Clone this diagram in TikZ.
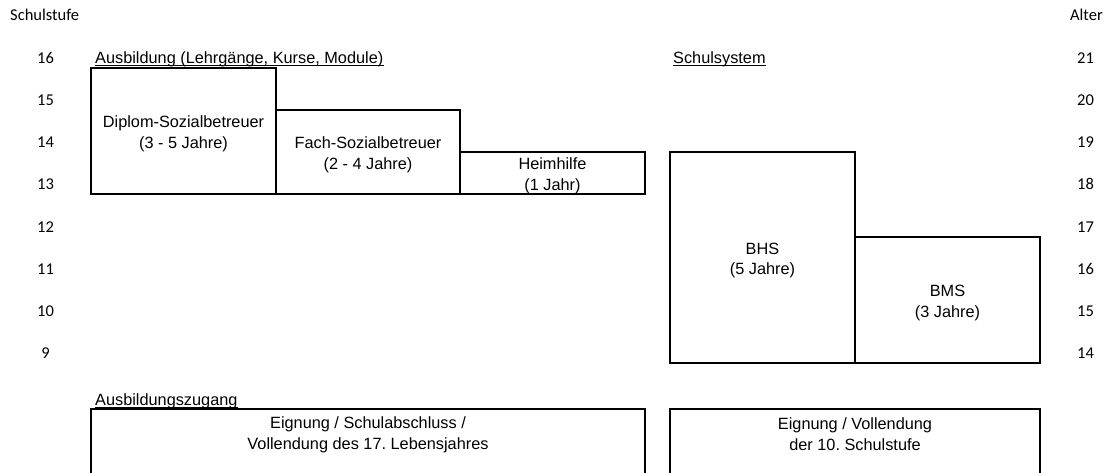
\documentclass[tikz,border=0pt]{standalone}
\usepackage{fontspec}
\setmainfont{Liberation Sans}
\newfontfamily\calibrifont{Carlito}
\newcommand\arialtext{\fontsize{16.3}{20.8}\selectfont}
\newcommand\calibritext{\calibrifont\fontsize{16.5}{20}\selectfont}
\begin{document}
\begin{tikzpicture}[x=1pt,y=-1pt,
  box/.style={draw, line width=1.1pt, inner sep=0pt},
  txt/.style={inner sep=0pt, align=center, font=\arialtext},
  num/.style={font=\calibritext, anchor=base, inner sep=0pt},
  head/.style={font=\arialtext, anchor=base west, inner sep=0pt},
  uline/.style={line width=0.9pt}]
\useasboundingbox (0,0) rectangle (1109,472);
\clip (0,0) rectangle (1109,472);

% axis titles
\node[font=\calibritext, anchor=base west, inner sep=0pt] (schulstufe) at (10,20.7) {Schulstufe};
\node[font=\calibritext, anchor=base east, inner sep=0pt] (alter) at (1103,20.7) {Alter};

% axis numbers
\foreach \s [count=\i from 0] in {16,15,14,13,12,11,10,9} {
  \node[num] (l\s) at (45.5,63.3+\i*42.2) {\s};
}
\foreach \a [count=\i from 0] in {21,20,19,18,17,16,15,14} {
  \node[num] (r\a) at (1085.5,63.3+\i*42.2) {\a};
}

% headings
\node[head] (hausb) at (95,63.3) {Ausbildung (Lehrgänge, Kurse, Module)};
\draw[uline] ([yshift=-2.5pt]hausb.base west) -- ([yshift=-2.5pt]hausb.base east);
\node[head] (hschul) at (673,63.3) {Schulsystem};
\draw[uline] ([yshift=-2.5pt]hschul.base west) -- ([yshift=-2.5pt]hschul.base east);
\node[head] (hzug) at (95,405.2) {Ausbildungszugang};
\draw[uline] ([yshift=-2.5pt]hzug.base west) -- ([yshift=-2.5pt]hzug.base east);

% training boxes
\node[box, minimum width=185pt, minimum height=126pt] (diplom) at (183.5,131) {};
\node[txt] (diplomtext) at (183.5,133.5) {Diplom-Sozialbetreuer\\(3 - 5 Jahre)};
\node[box, minimum width=184pt, minimum height=84pt] (fach) at (368,152) {};
\node[txt] (fachtext) at (368,155) {Fach-Sozialbetreuer\\(2 - 4 Jahre)};
\node[box, minimum width=185pt, minimum height=42pt] (heim) at (552.5,173) {};
\node[txt] (heimtext) at (552.5,176) {Heimhilfe\\(1 Jahr)};

% school boxes
\node[box, minimum width=185pt, minimum height=211pt] (bhs) at (762.5,257.5) {};
\node[txt] (bhstext) at (762.5,260.5) {BHS\\(5 Jahre)};
\node[box, minimum width=185pt, minimum height=126pt] (bms) at (947.5,300) {};
\node[txt] (bmstext) at (947.5,303) {BMS\\(3 Jahre)};

% access boxes
\node[box, minimum width=554pt, minimum height=111pt] (zugl) at (368,464.5) {};
\node[txt] (zugltext) at (368,434.5)
  {Eignung / Schulabschluss /\\Vollendung des 17.\ Lebensjahres};
\node[box, minimum width=370pt, minimum height=111pt] (zugr) at (855,464.5) {};
\node[txt] (zugrtext) at (855,434.5)
  {Eignung / Vollendung\\der 10.\ Schulstufe};
\end{tikzpicture}
\end{document}
